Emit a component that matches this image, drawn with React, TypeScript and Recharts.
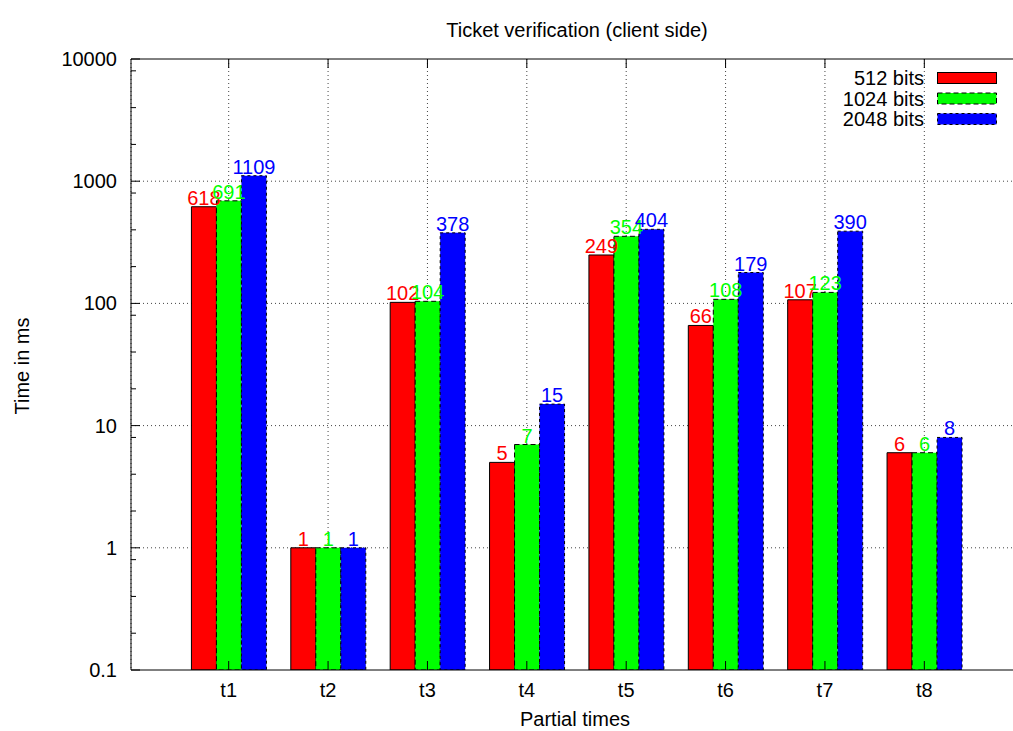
import {
  BarChart,
  Bar,
  XAxis,
  YAxis,
  CartesianGrid,
  Legend,
  LabelList,
  ReferenceLine,
} from 'recharts';

const categories = ['t1', 't2', 't3', 't4', 't5', 't6', 't7', 't8'];
const bits512 = [618, 1, 102, 5, 249, 66, 107, 6];
const bits1024 = [691, 1, 104, 7, 354, 108, 123, 6];
const bits2048 = [1109, 1, 378, 15, 404, 179, 390, 8];

const majorTicks = [0.1, 1, 10, 100, 1000, 10000];
const minorTicks = [0.2, 0.4, 0.8, 2, 4, 8, 20, 40, 80, 200, 400, 800, 2000, 4000, 8000];
const gridValues = [1, 10, 100, 1000];

const series = [
  { key: 'b512', name: '512 bits', color: '#ff0000', dash: undefined },
  { key: 'b1024', name: '1024 bits', color: '#00ff00', dash: '5 3' },
  { key: 'b2048', name: '2048 bits', color: '#0000ff', dash: '3 3' },
];

const data = categories.map((name, i) => ({
  name,
  b512: bits512[i],
  b1024: bits1024[i],
  b2048: bits2048[i],
}));

const FONT = '"Liberation Sans", Arial, Helvetica, sans-serif';
const PLOT_TOP = 59;

function fmtTick(v: number) {
  return v < 1 ? v.toFixed(1) : String(Math.round(v));
}

function YTick(props: any) {
  const { x, y, payload } = props;
  const major = majorTicks.includes(payload.value);
  return (
    <g>
      <line x1={x} x2={x + (major ? 9 : 5)} y1={y} y2={y} stroke="#000" strokeWidth={1} />
      {major && (
        <text x={x - 14} y={y} dy={7} textAnchor="end" fontSize={20} fill="#000">
          {fmtTick(payload.value)}
        </text>
      )}
    </g>
  );
}

function XTick(props: any) {
  const { x, y, payload } = props;
  return (
    <g>
      <line x1={x} x2={x} y1={y} y2={y - 9} stroke="#000" strokeWidth={1} />
      <line x1={x} x2={x} y1={PLOT_TOP} y2={PLOT_TOP + 9} stroke="#000" strokeWidth={1} />
      <text x={x} y={y} dy={27} textAnchor="middle" fontSize={20} fill="#000">
        {payload.value}
      </text>
    </g>
  );
}

function KeyBox() {
  return (
    <svg width={170} height={66} style={{ display: 'block' }}>
      {series.map((s, i) => (
        <g key={s.key}>
          <text x={84} y={12 + i * 20.5} dy={7} textAnchor="end" fontSize={20} fill="#000" fontFamily={FONT}>
            {s.name}
          </text>
          <rect
            x={97.5}
            y={6.5 + i * 20.5}
            width={59}
            height={11}
            fill={s.color}
            stroke="#000"
            strokeWidth={1}
            strokeDasharray={s.dash}
          />
        </g>
      ))}
    </svg>
  );
}

export default function App() {
  return (
    <div
      style={{
        position: 'absolute',
        left: 0,
        top: 0,
        width: 1013,
        height: 731,
        overflow: 'hidden',
        background: '#fff',
        fontFamily: FONT,
      }}
    >
      <BarChart
        width={1040}
        height={731}
        data={data}
        margin={{ top: PLOT_TOP, right: 12, bottom: 0, left: 0 }}
        barCategoryGap="12.5%"
        barGap={0}
      >
        <CartesianGrid
          stroke="#444"
          strokeDasharray="1 3"
          horizontalValues={gridValues}
        />
        <XAxis
          dataKey="name"
          height={61}
          padding={{ left: 48, right: 54 }}
          interval={0}
          tickSize={0}
          tickMargin={0}
          tick={<XTick />}
          axisLine={{ stroke: '#000' }}
        />
        <YAxis
          scale="log"
          type="number"
          domain={[0.1, 10000]}
          allowDataOverflow
          ticks={[...majorTicks, ...minorTicks]}
          interval={0}
          width={131}
          tickSize={0}
          tickMargin={0}
          tick={<YTick />}
          axisLine={{ stroke: '#000' }}
        />
        <ReferenceLine y={10000} stroke="#000" strokeWidth={1} />
        <Legend
          layout="vertical"
          align="center"
          verticalAlign="middle"
          wrapperStyle={{ position: 'absolute', top: 66, left: 840, width: 170 }}
          content={() => <KeyBox />}
        />
        {series.map((s) => (
          <Bar
            key={s.key}
            dataKey={s.key}
            name={s.name}
            fill={s.color}
            stroke="#000"
            strokeWidth={1}
            strokeDasharray={s.dash}
            isAnimationActive={false}
          >
            <LabelList
              dataKey={s.key}
              position="top"
              offset={2}
              fill={s.color}
              fontSize={20}
            />
          </Bar>
        ))}
        <text x={577} y={37} textAnchor="middle" fontSize={20} fill="#000">
          Ticket verification (client side)
        </text>
        <text x={575} y={726} textAnchor="middle" fontSize={20} fill="#000">
          Partial times
        </text>
        <text
          x={29}
          y={366}
          textAnchor="middle"
          fontSize={20}
          fill="#000"
          transform="rotate(-90 29 366)"
        >
          Time in ms
        </text>
      </BarChart>
    </div>
  );
}
